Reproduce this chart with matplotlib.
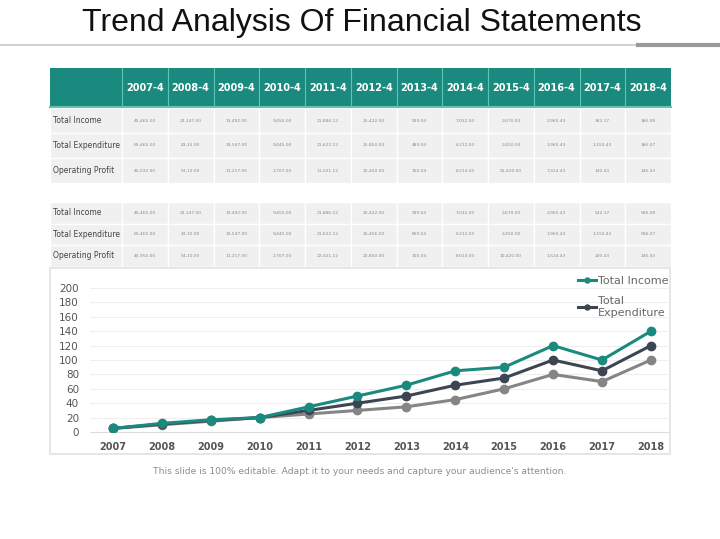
import numpy as np
import matplotlib as mpl
mpl.use('Agg')
import matplotlib.pyplot as plt
from matplotlib.patches import Rectangle

# data
header_years = ["2007-4", "2008-4", "2009-4", "2010-4", "2011-4", "2012-4",
                "2013-4", "2014-4", "2015-4", "2016-4", "2017-4", "2018-4"]
row_labels = ["Total Income", "Total Expenditure", "Operating Profit"]

table1_income = ["45,465.00", "23,147.00", "13,492.00", "9,450.00", "21,886.12", "25,422.00",
                 "929.04", "7,032.00", "2,670.00", "2,965.43", "342.17", "386.08"]
table1_expend = ["65,465.00", "43,15.00", "33,547.00", "9,445.00", "21,622.12", "25,850.00",
                 "489.04", "6,212.00", "2,450.00", "1,965.43", "1,150.43", "386.07"]
table1_profit = ["45,032.00", "53,10.00", "11,217.00", "2,707.00", "11,021.12", "25,450.00",
                 "150.04", "8,214.00", "52,420.00", "7,324.43", "140.43", "146.43"]

table2_income = ["45,465.00", "23,147.00", "13,492.00", "9,450.00", "21,886.12", "25,422.00",
                 "929.04", "7,032.00", "2,670.00", "2,965.43", "542.17", "586.08"]
table2_expend = ["65,465.00", "43,15.00", "33,547.00", "9,445.00", "21,622.12", "25,456.00",
                 "869.04", "6,212.00", "2,450.00", "1,965.43", "1,150.43", "586.07"]
table2_profit = ["40,950.00", "54,10.00", "11,217.00", "2,707.00", "22,021.12", "23,850.00",
                 "150.04", "8,014.00", "10,420.00", "1,524.43", "240.43", "246.43"]

years = [2007, 2008, 2009, 2010, 2011, 2012, 2013, 2014, 2015, 2016, 2017, 2018]
total_income = [5, 12, 17, 20, 35, 50, 65, 85, 90, 120, 100, 140]
total_expenditure = [5, 11, 16, 20, 30, 40, 50, 65, 75, 100, 85, 120]
operating_profit = [5, 10, 15, 20, 25, 30, 35, 45, 60, 80, 70, 100]

teal = "#1b8a7e"
dark = "#3e4552"
grey = "#858585"

W, H = 720, 539
fig = plt.figure(figsize=(W / 100, H / 100), dpi=100)
fig.patch.set_facecolor("white")

# page-level axes in pixel coordinates for title, rules and tables
page = fig.add_axes([0, 0, 1, 1])
page.set_xlim(0, W)
page.set_ylim(H, 0)
page.axis("off")

page.text(362, 23, "Trend Analysis Of Financial Statements", ha="center", va="center",
          fontsize=23, color="#111111", family=["Liberation Sans Narrow", "Liberation Sans"])
page.plot([0, 700], [45, 45], color="#c8c8c8", lw=1.2)
page.plot([638, 720], [45, 45], color="#9a9a9a", lw=3)

col0_left, col0_right, table_right = 50, 122, 671
col_w = (table_right - col0_right) / len(header_years)


def draw_body(rows, y_top, row_h):
    for r, (label, vals) in enumerate(rows):
        y = y_top + r * row_h
        page.add_patch(Rectangle((col0_left, y), col0_right - col0_left, row_h,
                                 facecolor="#f0f0f0", edgecolor="white", lw=1))
        page.text(col0_left + 3, y + row_h / 2, label, ha="left", va="center",
                  fontsize=5.5, color="#444444")
        for c, v in enumerate(vals):
            x = col0_right + c * col_w
            page.add_patch(Rectangle((x, y), col_w, row_h,
                                     facecolor="#f0f0f0", edgecolor="white", lw=1))
            page.text(x + col_w / 2, y + row_h / 2, v, ha="center", va="center",
                      fontsize=3.2, color="#8a8a8a")


# table 1 header
page.add_patch(Rectangle((col0_left, 68), table_right - col0_left, 39,
                         facecolor=teal, edgecolor="none"))
for c, yr in enumerate(header_years):
    x = col0_right + c * col_w
    page.plot([x, x], [68, 107], color="#63c2b6", lw=0.8)
    page.text(x + col_w / 2, 88, yr, ha="center", va="center", fontsize=7,
              fontweight="bold", color="white")
page.plot([col0_left, table_right], [107, 107], color="#63c2b6", lw=1.5)

draw_body([(row_labels[0], table1_income), (row_labels[1], table1_expend),
           (row_labels[2], table1_profit)], 108, 25)
draw_body([(row_labels[0], table2_income), (row_labels[1], table2_expend),
           (row_labels[2], table2_profit)], 202, 21.5)

# chart panel
page.add_patch(Rectangle((50, 268), 620, 186, facecolor="white",
                         edgecolor="#e2e2e2", lw=1.2))

page.text(360, 472, "This slide is 100% editable. Adapt it to your needs and capture your audience's attention.",
          ha="center", va="center", fontsize=6.6, color="#8c8c8c")

# line chart
left_px, right_px, top_px, bot_px = 90, 668, 283, 432
ax = fig.add_axes([left_px / W, 1 - bot_px / H, (right_px - left_px) / W, (bot_px - top_px) / H])
ax.patch.set_alpha(0)
ax.plot(years, operating_profit, color=grey, lw=2.2, marker="o", ms=6, zorder=2)
ax.plot(years, total_expenditure, color=dark, lw=2.2, marker="o", ms=6, zorder=3,
        label="Total\nExpenditure")
ax.plot(years, total_income, color=teal, lw=2.2, marker="o", ms=6, zorder=4,
        label="Total Income")

ax.set_xlim(2006.53, 2018.35)
ax.set_ylim(0, 207)
ax.set_yticks(np.arange(0, 201, 20))
ax.set_xticks(years)
ax.yaxis.grid(True, color="#eeeeee", lw=0.8)
ax.set_axisbelow(True)
for s in ["top", "right", "left"]:
    ax.spines[s].set_visible(False)
ax.spines["bottom"].set_color("#dddddd")
ax.tick_params(axis="both", length=0, colors="#555555")
ax.tick_params(axis="y", labelsize=7.5, pad=8)
ax.tick_params(axis="x", labelsize=7, pad=7)
for lab in ax.get_xticklabels():
    lab.set_fontweight("bold")

handles, labels = ax.get_legend_handles_labels()
leg = fig.legend(handles[::-1], labels[::-1], loc="upper left",
                 bbox_to_anchor=(568 / W, 1 - 266 / H), frameon=False,
                 fontsize=8, handlelength=1.6, handletextpad=0.2, labelspacing=0.9,
                 markerscale=0.6)
for t in leg.get_texts():
    t.set_color("#666666")

fig.savefig("out.png", dpi=100)
